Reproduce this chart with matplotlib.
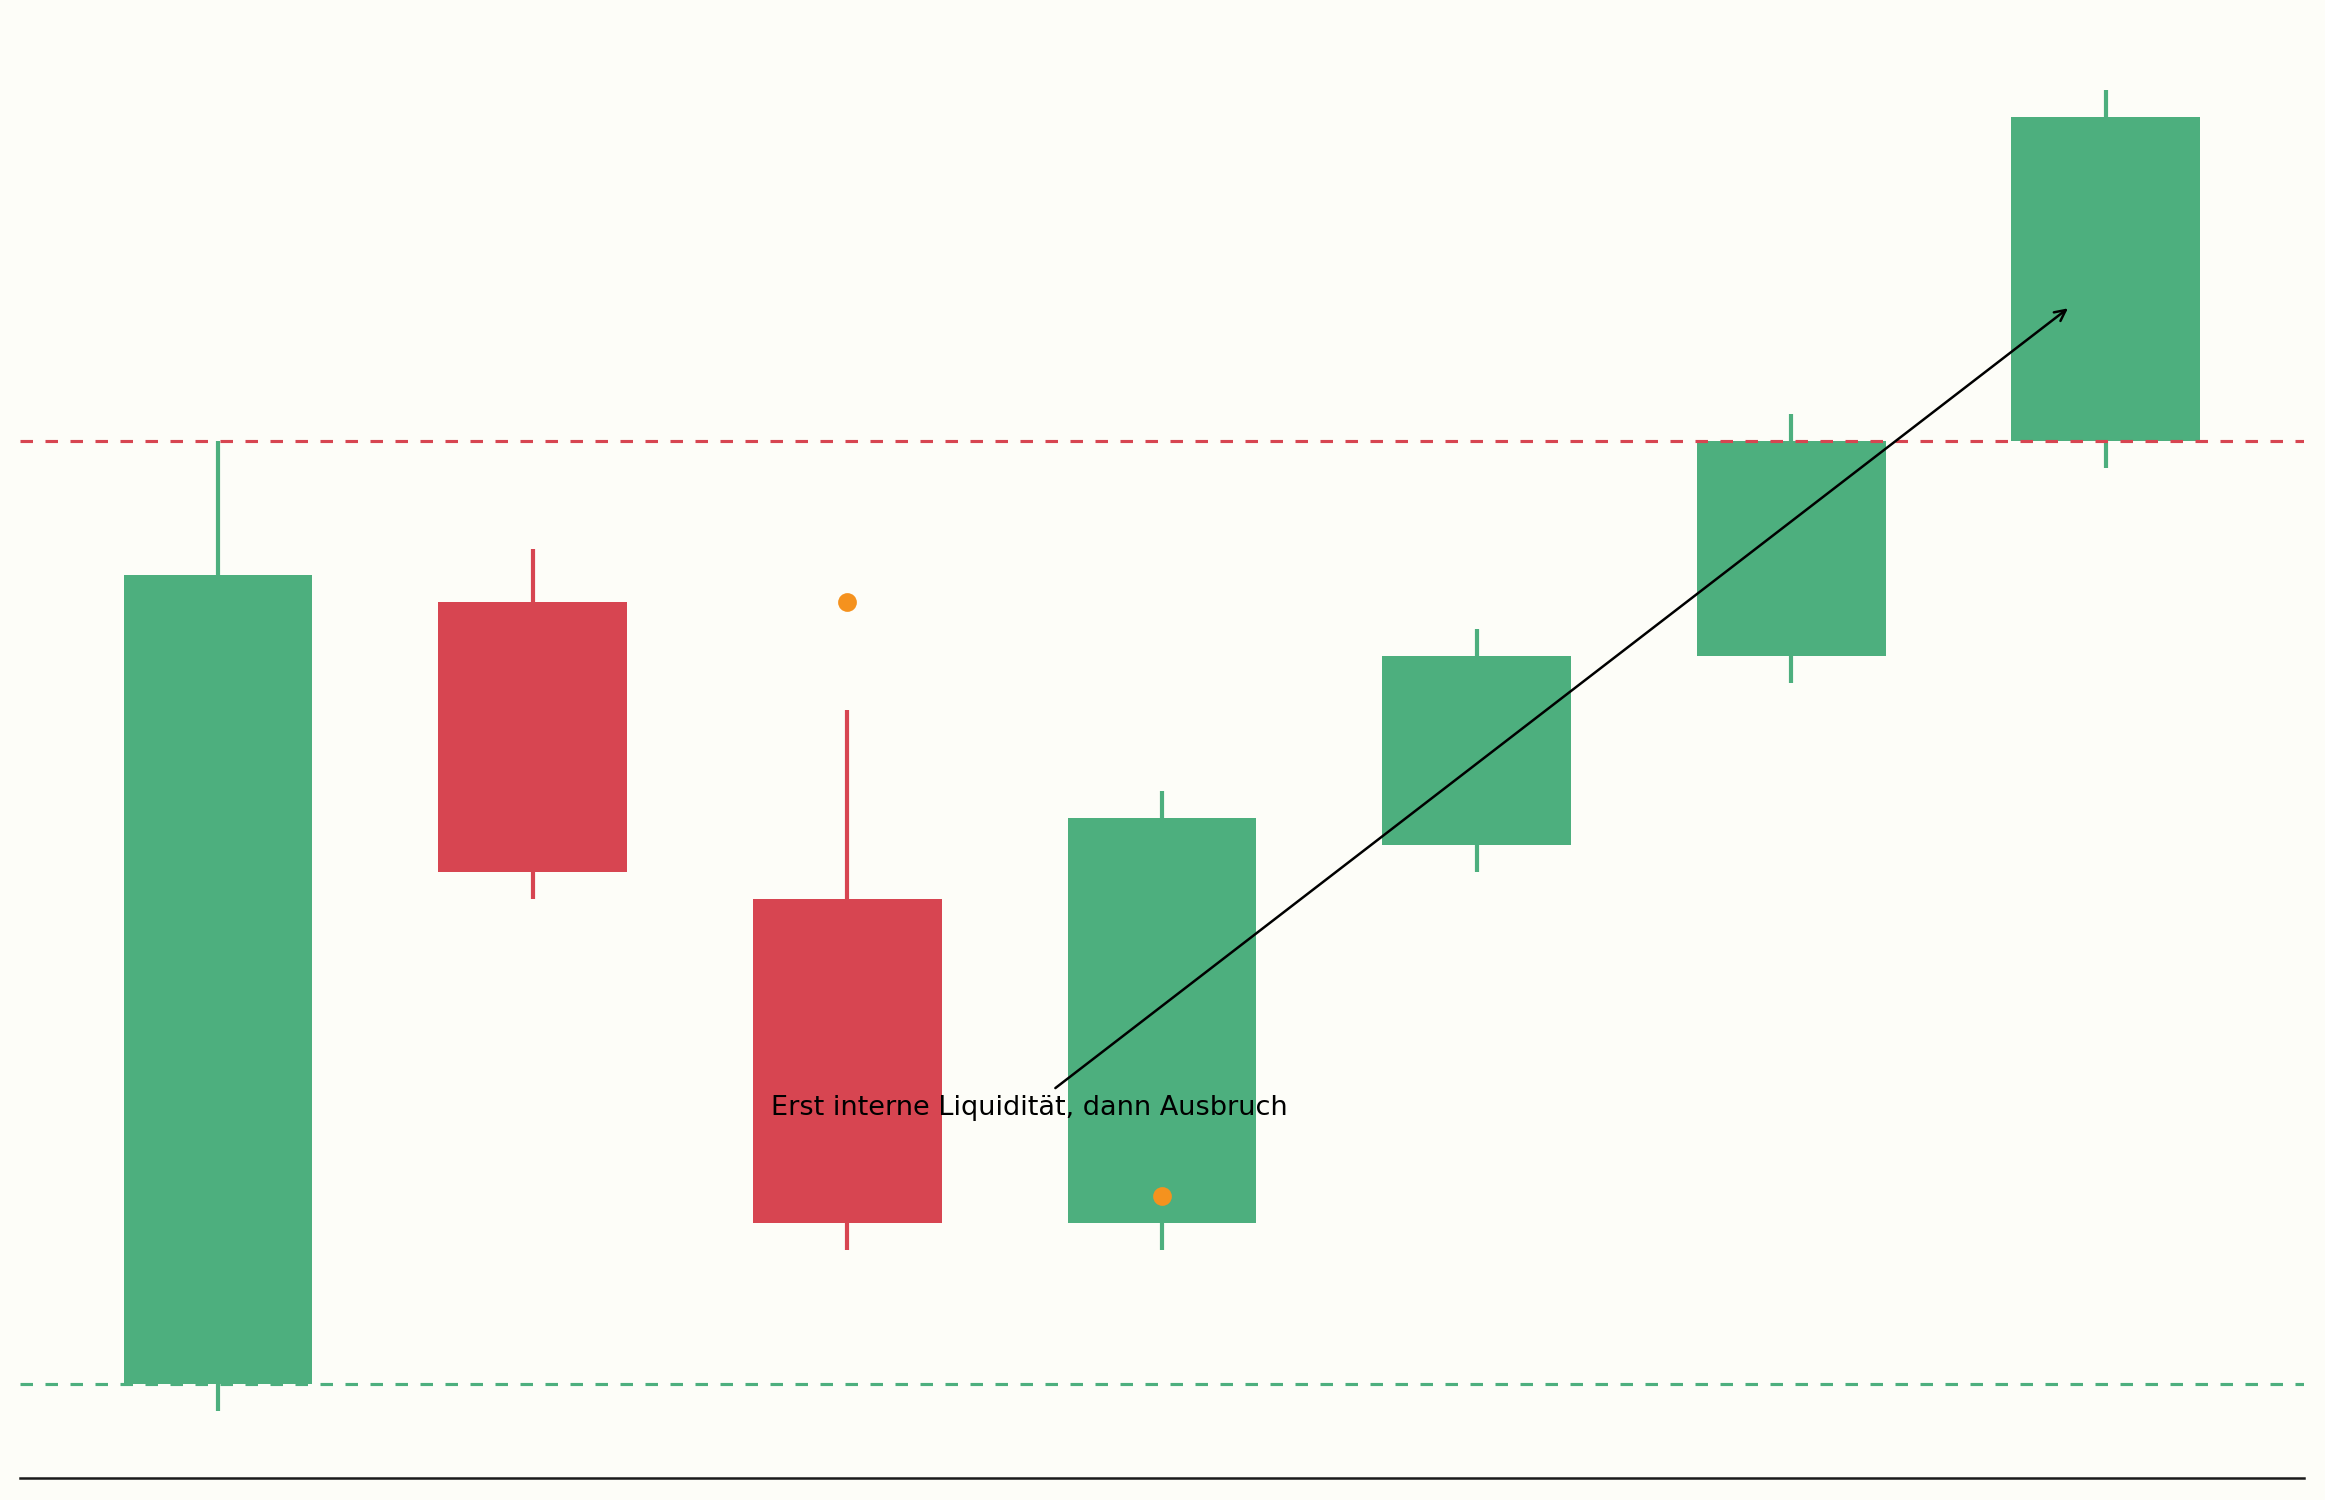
import matplotlib
matplotlib.use('Agg')
import matplotlib.pyplot as plt

# ─── Candle data (OHLC) ───
idx    = [0, 1, 2, 3, 4, 5, 6]
opens  = [100.0, 105.8, 103.6, 101.2, 104.0, 105.4, 107.0]
highs  = [107.0, 106.2, 105.0, 104.4, 105.6, 107.2, 109.6]
lows   = [99.8, 103.6, 101.0, 101.0, 103.8, 105.2, 106.8]
closes = [106.0, 103.8, 101.2, 104.2, 105.4, 107.0, 109.4]

# liquidity marks + levels
dot_x = [2, 3]
dot_y = [105.8, 101.4]
range_high = 107.0
range_low = 100.0

label = 'Erst interne Liquidität, dann Ausbruch'
label_xy = (2.58, 102.0)
arrow_xy = (5.89, 108.0)

BG = '#fdfdf8'
GREEN = '#4daf7e'
RED = '#d74551'
ORANGE = '#f5921e'

fig, ax = plt.subplots(figsize=(15.5, 10), dpi=150)
fig.patch.set_facecolor(BG)
ax.set_facecolor(BG)

colors = [GREEN if c >= o else RED for o, c in zip(opens, closes)]

ax.vlines(idx, lows, highs, colors=colors, linewidth=2, zorder=1)
ax.bar(idx, [c - o for o, c in zip(opens, closes)], bottom=opens,
       width=0.6, color=colors, zorder=1.5)

ax.axhline(range_high, color=RED, linewidth=1.5, linestyle=(0, (4, 4)), zorder=2)
ax.axhline(range_low, color=GREEN, linewidth=1.5, linestyle=(0, (4, 4)), zorder=2)

ax.plot(dot_x, dot_y, 'o', color=ORANGE, markersize=8, zorder=3)

ax.annotate(label, xy=arrow_xy, xytext=label_xy, ha='center',
            fontsize=13, color='black',
            arrowprops=dict(arrowstyle='->', color='black', lw=1.2), zorder=4)

for side in ('top', 'left', 'right'):
    ax.spines[side].set_visible(False)
ax.spines['bottom'].set_color('#1a1a1a')
ax.spines['bottom'].set_linewidth(1.2)
ax.set_xticks([])
ax.set_yticks([])

plt.subplots_adjust(left=0.0085, right=0.991, bottom=0.015, top=0.984)
plt.savefig('out.png', dpi=150, facecolor=BG)
plt.close()
